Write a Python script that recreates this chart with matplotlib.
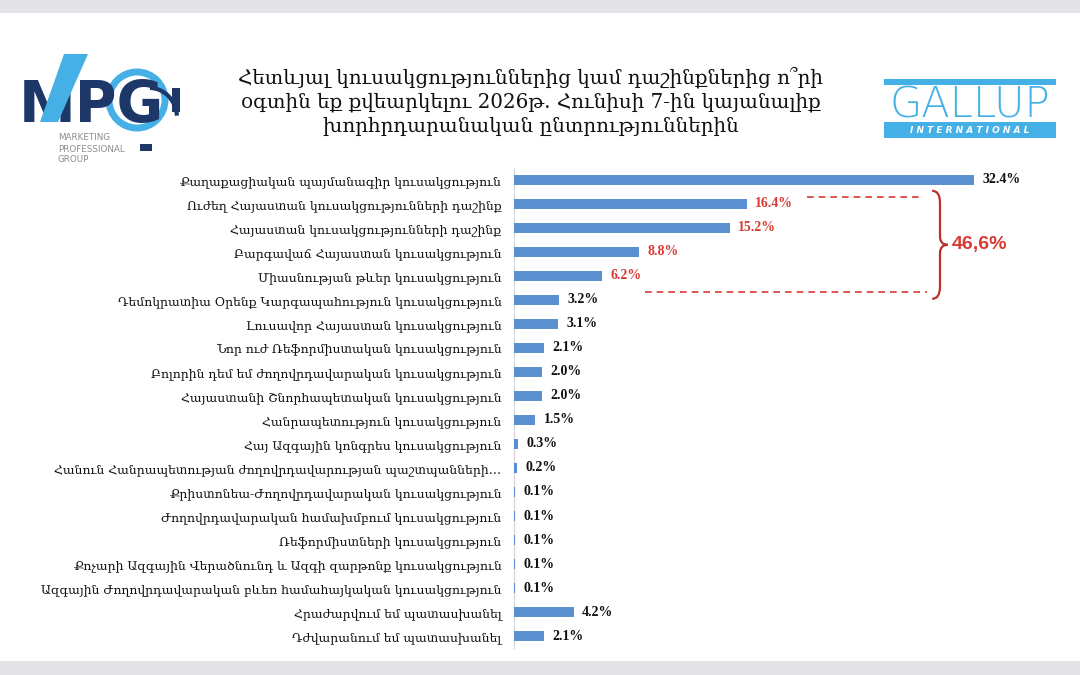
import matplotlib
matplotlib.use("Agg")
import matplotlib.pyplot as plt
from matplotlib.patches import Rectangle, Polygon, Circle, PathPatch, Arc
from matplotlib.path import Path

# Survey data (Gallup International / MPG)
parties = [
    "Քաղաքացիական պայմանագիր կուսակցություն",
    "Ուժեղ Հայաստան կուսակցությունների դաշինք",
    "Հայաստան կուսակցությունների դաշինք",
    "Բարգավաճ Հայաստան կուսակցություն",
    "Միասնության թևեր կուսակցություն",
    "Դեմոկրատիա Օրենք Կարգապահություն կուսակցություն",
    "Լուսավոր Հայաստան կուսակցություն",
    "Նոր ուժ Ռեֆորմիստական կուսակցություն",
    "Բոլորին դեմ եմ ժողովրդավարական կուսակցություն",
    "Հայաստանի Շնորհապետական կուսակցություն",
    "Հանրապետություն կուսակցություն",
    "Հայ Ազգային կոնգրես կուսակցություն",
    "Հանուն Հանրապետության ժողովրդավարության պաշտպանների…",
    "Քրիստոնեա-Ժողովրդավարական կուսակցություն",
    "Ժողովրդավարական համախմբում կուսակցություն",
    "Ռեֆորմիստների կուսակցություն",
    "Քոչարի Ազգային Վերածնունդ և Ազգի զարթոնք կուսակցություն",
    "Ազգային Ժողովրդավարական բևեռ համահայկական կուսակցություն",
    "Հրաժարվում եմ պատասխանել",
    "Դժվարանում եմ պատասխանել",
]
values = [32.4, 16.4, 15.2, 8.8, 6.2, 3.2, 3.1, 2.1, 2.0, 2.0, 1.5,
          0.3, 0.2, 0.1, 0.1, 0.1, 0.1, 0.1, 4.2, 2.1]
highlighted = parties[1:5]

title = ("Հետևյալ կուսակցություններից կամ դաշինքներից ո՞րի\n"
         "օգտին եք քվեարկելու 2026թ. Հունիսի 7-ին կայանալիք\n"
         "խորհրդարանական ընտրություններին")

BLUE = "#5b8fd2"
RED = "#d93a33"
NAVY = "#1d3768"
LIGHT = "#45b0e5"
ARM = ["DejaVu Serif", "DejaVu Sans"]

W, H = 1080, 675
fig = plt.figure(figsize=(W / 100, H / 100), dpi=100)
fig.patch.set_facecolor("white")

# background layer in pixel coords for bands and logos
bg = fig.add_axes([0, 0, 1, 1], zorder=0)
bg.set_xlim(0, W)
bg.set_ylim(H, 0)
bg.axis("off")
bg.add_patch(Rectangle((0, 0), W, 13, color="#e3e3e8", lw=0))
bg.add_patch(Rectangle((0, 661), W, 14, color="#e3e3e8", lw=0))

# MPG logo
bg.add_patch(Circle((137, 100), 28, fill=False, ec=LIGHT, lw=5, zorder=1))
bg.text(19, 122, "MPG", fontsize=41, fontweight="bold", color=NAVY,
        family="DejaVu Sans", va="baseline", ha="left", zorder=2)
bg.add_patch(Polygon([(64, 54), (88, 54), (58, 122), (40, 122)],
                     closed=True, color=LIGHT, lw=0, zorder=3))
bg.add_patch(Rectangle((172, 88), 8, 24, color=NAVY, lw=0, zorder=3))
bg.add_patch(Arc((150, 118), 54, 60, theta1=-90, theta2=-5, color=NAVY,
                 lw=3, zorder=3))
bg.add_patch(Rectangle((140, 144), 12, 7, color=NAVY, lw=0, zorder=3))
for k, word in enumerate(["MARKETING", "PROFESSIONAL", "GROUP"]):
    bg.text(58, 138 + k * 11, word, fontsize=6.3, color="#8c8c8c",
            family="DejaVu Sans", va="center", ha="left")

# GALLUP logo
bg.add_patch(Rectangle((884, 79), 172, 6, color=LIGHT, lw=0))
bg.text(970, 118, "GALLUP", fontsize=30, color=LIGHT, fontweight="light",
        family="DejaVu Sans", ha="center", va="baseline")
bg.add_patch(Rectangle((884, 122), 172, 16, color=LIGHT, lw=0))
bg.text(970, 130.5, "I N T E R N A T I O N A L", fontsize=6.5, color="white",
        fontweight="bold", fontstyle="italic", family="DejaVu Sans",
        ha="center", va="center")

# title
bg.text(531, 101, title, fontsize=14.3, family=ARM, ha="center", va="center",
        linespacing=1.3, color="#111111")

# bar chart
ax = fig.add_axes([514 / W, 1 - 648 / H, 546 / W, 480 / H], zorder=1)
ax.patch.set_alpha(0)
n = len(parties)
ypos = list(range(n))
ax.barh(ypos, values, height=0.4, color=BLUE, zorder=3)
ax.set_xlim(0, 546 / 14.2)
ax.set_ylim(n - 0.5, -0.5)
ax.set_yticks(ypos)
ax.set_yticklabels(parties, fontsize=8.9, family=ARM, color="#111111")
ax.tick_params(axis="y", length=0, pad=9)
ax.set_xticks([])
for s in ["top", "right", "bottom"]:
    ax.spines[s].set_visible(False)
ax.spines["left"].set_color("#d9d9d9")
ax.spines["left"].set_linewidth(1)
ax.spines["left"].set_zorder(1)

for i, (name, v) in enumerate(zip(parties, values)):
    c = RED if name in highlighted else "#111111"
    ax.annotate(f"{v:.1f}%", (v, i), xytext=(6, 0), textcoords="offset points",
                ha="left", va="center", fontsize=10, color=c,
                fontweight="bold", family="Liberation Serif")

# bracket around the highlighted group
i0, i1 = parties.index(highlighted[0]), parties.index(highlighted[-1])
group_total = sum(values[i0:i1 + 1])
ax.plot([20.6, 28.8], [i0 - 0.3, i0 - 0.3], ls=(0, (4, 3)), color=RED, lw=1.2)
ax.plot([9.2, 29.1], [i1 + 0.65, i1 + 0.65], ls=(0, (4, 3)), color=RED, lw=1.2)

xa, xm, xt = 29.45, 30.0, 30.55
yt, yb = i0 - 0.55, i1 + 0.95
ym = (yt + yb) / 2
verts = [(xa, yt), (xm, yt), (xm, yt + 0.5),
         (xm, ym - 0.35), (xm, ym), (xt, ym),
         (xm, ym), (xm, ym + 0.35),
         (xm, yb - 0.5), (xm, yb), (xa, yb)]
codes = [Path.MOVETO, Path.CURVE3, Path.CURVE3,
         Path.LINETO, Path.CURVE3, Path.CURVE3,
         Path.CURVE3, Path.CURVE3,
         Path.LINETO, Path.CURVE3, Path.CURVE3]
ax.add_patch(PathPatch(Path(verts, codes), fill=False, ec="#b8322c", lw=1.6,
                       clip_on=False))
ax.text(30.8, ym, f"{group_total:.1f}%".replace(".", ","), fontsize=14,
        fontweight="bold", color=RED, family="Liberation Sans",
        ha="left", va="center")

fig.savefig("out.png", dpi=100)
